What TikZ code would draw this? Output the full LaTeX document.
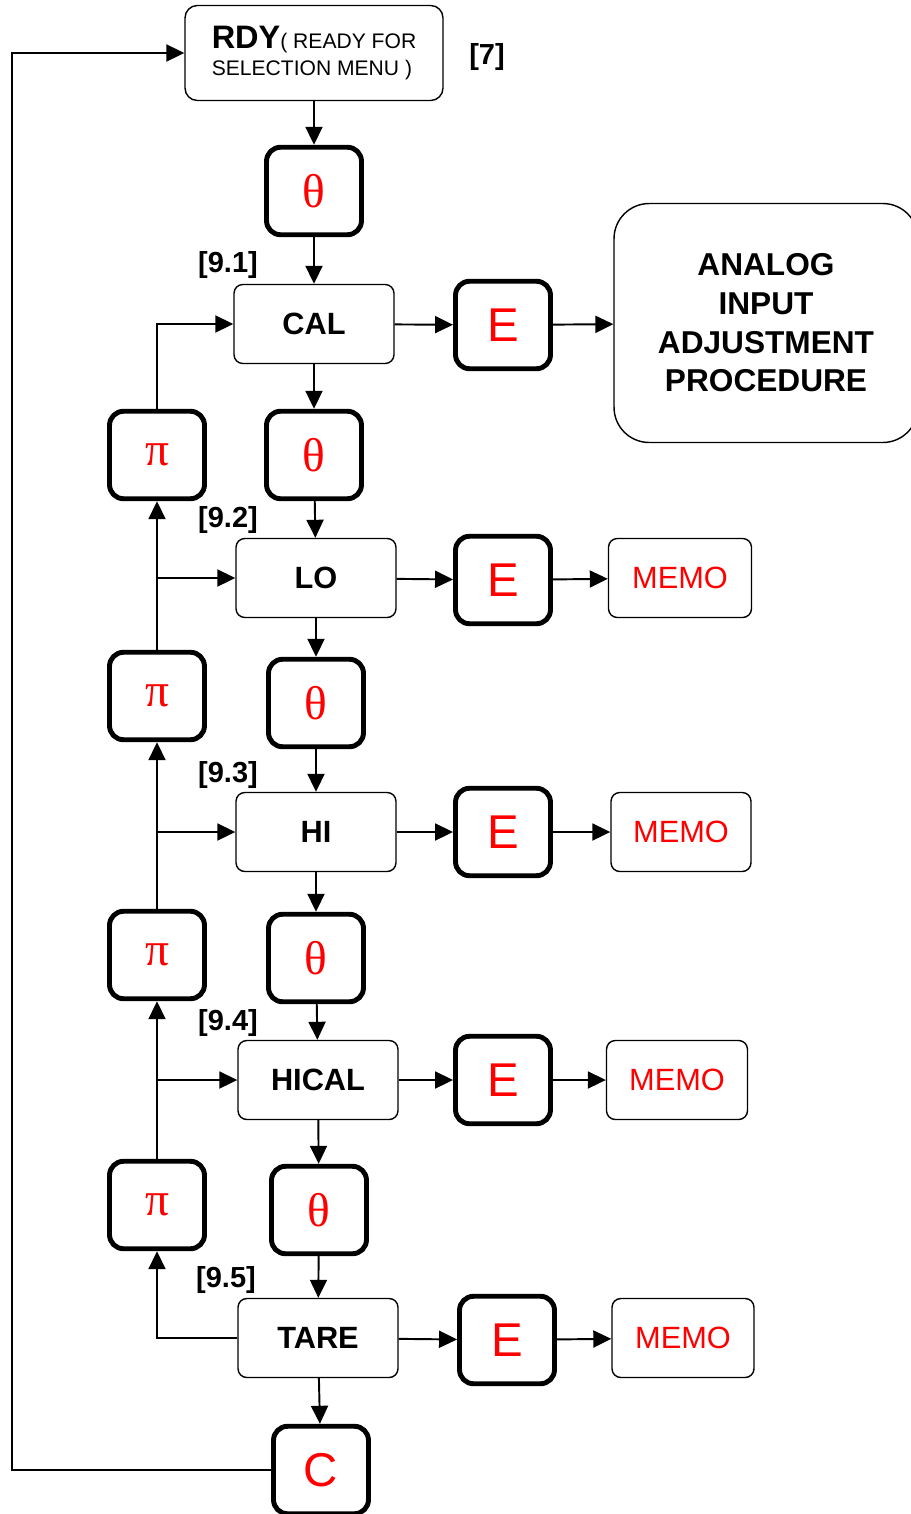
\documentclass[tikz,border=0pt]{standalone}
\usepackage{fontspec}
\setmainfont{Liberation Sans}
\newfontfamily\greekfont{Liberation Serif}
\usepackage{tikz}
\usetikzlibrary{arrows.meta}
\tikzstyle{menu} = [draw, line width=0.8pt, rounded corners=5pt, minimum width=3.2cm, minimum height=1.58cm, inner sep=0pt, font=\bfseries\fontsize{17.5}{20}\selectfont]
\tikzstyle{key} = [draw, line width=2.8pt, rounded corners=8pt, minimum width=1.9cm, minimum height=1.75cm, inner sep=0pt, text=red, font=\fontsize{27}{30}\selectfont]
\tikzstyle{memo} = [draw, line width=0.8pt, rounded corners=5pt, minimum height=1.58cm, inner sep=0pt, text=red, font=\fontsize{17.5}{20}\selectfont]
\tikzstyle{tag} = [inner sep=0pt, font=\bfseries\fontsize{16.5}{18}\selectfont]

\begin{document}
\begin{tikzpicture}[x=0.02cm, y=-0.02cm, line width=1.1pt, >={Triangle[length=0.36cm, width=0.34cm]}]
  \useasboundingbox (0,0) rectangle (911,1514);
  \node (rdy) at (314,53) [menu, minimum width=5.16cm, minimum height=1.9cm, rounded corners=7pt, align=left, font=\fontsize{12}{15}\selectfont]
    {{\bfseries\fontsize{18.5}{15}\selectfont RDY}( READY FOR\\SELECTION MENU )};
  \node (r) at (487,57) [tag] {[7]};
  \node (t1) at (314,191) [key] {\greekfont θ};
  \node (s1) at (228,265) [tag] {[9.1]};
  \node (cal) at (314,324) [menu] {CAL};
  \node (e1) at (503,325) [key] {E};
  \node (adj) at (766,323) [menu, minimum width=6.08cm, minimum height=4.78cm, rounded corners=20pt, align=center, font=\bfseries\fontsize{18}{22}\selectfont]
    {ANALOG\\INPUT\\ADJUSTMENT\\PROCEDURE};
  \node (p1) at (157,455) [key] {\greekfont π};
  \node (t2) at (314,455) [key] {\greekfont θ};
  \node (s2) at (228,520) [tag] {[9.2]};
  \node (lo) at (316,578) [menu] {LO};
  \node (e2) at (503,580) [key] {E};
  \node (m1) at (680,578) [memo, minimum width=2.86cm] {MEMO};
  \node (p2) at (157,696) [key] {\greekfont π};
  \node (t3) at (316,703) [key] {\greekfont θ};
  \node (s3) at (228,775) [tag] {[9.3]};
  \node (hi) at (316,832) [menu] {HI};
  \node (e3) at (503,832) [key] {E};
  \node (m2) at (681,832) [memo, minimum width=2.8cm] {MEMO};
  \node (p3) at (157,955) [key] {\greekfont π};
  \node (t4) at (316,958) [key] {\greekfont θ};
  \node (s4) at (228,1023) [tag] {[9.4]};
  \node (hical) at (318,1080) [menu] {HICAL};
  \node (e4) at (503,1080) [key] {E};
  \node (m3) at (677,1080) [memo, minimum width=2.82cm] {MEMO};
  \node (p4) at (157,1205) [key] {\greekfont π};
  \node (t5) at (319,1210) [key] {\greekfont θ};
  \node (s5) at (226,1280) [tag] {[9.5]};
  \node (tare) at (318,1338) [menu] {TARE};
  \node (e5) at (507,1340) [key] {E};
  \node (m4) at (683,1338) [memo, minimum width=2.84cm] {MEMO};
  \node (c) at (321,1470) [key] {C};
  \coordinate (loop) at (12,0);
  \draw [->] (rdy) to (t1);
  \draw [->] (t1) to (cal);
  \draw [->] (cal) to (e1);
  \draw [->] (e1) to (adj);
  \draw [->] (cal) to (t2);
  \draw [->] (t2) to (lo);
  \draw [->] (lo) to (e2);
  \draw [->] (e2) to (m1);
  \draw [->] (lo) to (t3);
  \draw [->] (t3) to (hi);
  \draw [->] (hi) to (e3);
  \draw [->] (e3) to (m2);
  \draw [->] (hi) to (t4);
  \draw [->] (t4) to (hical);
  \draw [->] (hical) to (e4);
  \draw [->] (e4) to (m3);
  \draw [->] (hical) to (t5);
  \draw [->] (t5) to (tare);
  \draw [->] (tare) to (e5);
  \draw [->] (e5) to (m4);
  \draw [->] (tare) to (c);
  \draw [->] (p1.north) |- (cal.west);
  \draw [->] (p2.north) |- (lo.west);
  \draw [->] (p2.north |- lo.west) to (p1.south);
  \draw [->] (p3.north) |- (hi.west);
  \draw [->] (p3.north |- hi.west) to (p2.south);
  \draw [->] (p4.north) |- (hical.west);
  \draw [->] (p4.north |- hical.west) to (p3.south);
  \draw [->] (tare.west) -| (p4.south);
  \draw [->] (c.west) -- (loop |- c.west) -- (loop |- rdy.west) -- (rdy.west);
\end{tikzpicture}
\end{document}
